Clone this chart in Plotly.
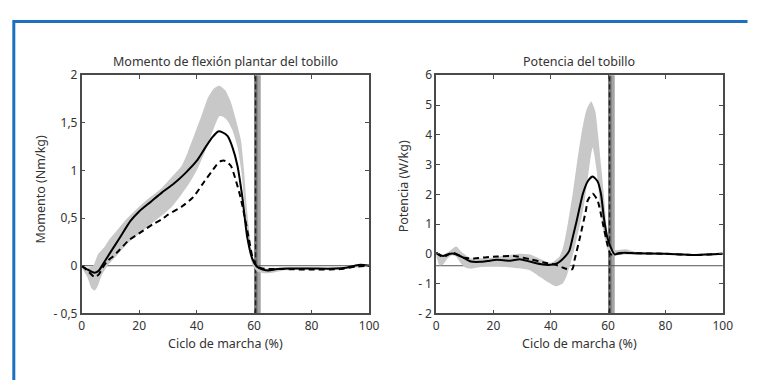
import plotly.graph_objects as go

# ---------------- data ----------------
# Left panel: Momento de flexión plantar del tobillo (Nm/kg)
mom_mean_x = [0, 2, 4.5, 6, 7.5, 10, 13, 17, 20, 24, 28, 32, 36, 40, 43, 45.5, 47.5, 49, 50.8, 52.5,
              54.2, 55.9, 57.6, 59.4, 61, 63, 65, 68, 72, 80, 88, 92, 95, 97, 100]
mom_mean_y = [0, -0.04, -0.075, -0.05, 0.02, 0.14, 0.28, 0.47, 0.57, 0.67, 0.77, 0.86, 0.97, 1.10, 1.24, 1.35, 1.41, 1.40, 1.36, 1.24,
              1.05, 0.72, 0.30, 0.07, -0.01, -0.04, -0.05, -0.035, -0.03, -0.03, -0.03, -0.02, 0.0, 0.01, 0.0]

mom_dash_x = [0, 2, 4.6, 6, 7.5, 9, 11, 13, 16.5, 20.5, 25, 28, 30, 34.8, 38.8, 42.8, 45, 47, 48.5, 50,
              51.9, 53.7, 55, 56, 57, 58.2, 59.5, 61, 63, 70, 80, 90, 95, 100]
mom_dash_y = [0, -0.05, -0.12, -0.09, -0.01, 0.05, 0.10, 0.16, 0.27, 0.35, 0.44, 0.49, 0.535, 0.62, 0.72, 0.89, 0.98, 1.06, 1.10, 1.10,
              1.05, 0.89, 0.75, 0.62, 0.47, 0.28, 0.08, -0.01, -0.03, -0.035, -0.04, -0.035, -0.01, 0.0]

mom_up_x = [0, 2, 4, 5.7, 8, 10, 12, 15, 18.8, 23, 28, 31, 34.8, 37, 39.4, 42, 43.9, 46, 47.9, 50,
            51.9, 53.5, 55.4, 56.5, 57.5, 58.5, 59.5, 60.5, 62, 65, 70, 80, 90, 95, 100]
mom_up_y = [0, -0.02, 0.0, 0.12, 0.20, 0.29, 0.36, 0.47, 0.585, 0.70, 0.82, 0.92, 1.05, 1.20, 1.39, 1.60, 1.76, 1.86, 1.89, 1.84,
            1.72, 1.55, 1.32, 1.0, 0.6, 0.3, 0.08, 0.0, -0.03, -0.03, -0.02, -0.02, -0.02, 0.0, 0.01]

mom_lo_x = [0, 2, 3.5, 4.5, 5.5, 7, 9, 12, 16.5, 23.4, 31.4, 37.1, 40, 42.8, 46.2, 47.9, 49.5, 50.8, 52.5, 54.2,
            55.5, 56.5, 57.5, 58.5, 59.5, 61, 62, 64, 67, 70, 80, 90, 95, 100]
mom_lo_y = [-0.02, -0.12, -0.24, -0.26, -0.22, -0.10, 0.0, 0.10, 0.25, 0.42, 0.62, 0.85, 1.0, 1.19, 1.46, 1.57, 1.56, 1.52, 1.42, 1.25,
            1.0, 0.7, 0.4, 0.15, 0.0, -0.06, -0.07, -0.08, -0.07, -0.05, -0.04, -0.04, -0.02, 0.0]

# Right panel: Potencia del tobillo (W/kg)
pot_mean_x = [0, 2.4, 4, 5.8, 8.7, 12.1, 15.5, 18, 21.2, 25.8, 29.2, 32.7, 37.2, 40.7, 42.5, 44.1, 46.4, 47.8, 48.9, 50,
              51.2, 52.9, 54.6, 56.3, 57.5, 58.6, 59.8, 61.5, 62.3, 64, 66, 70, 80, 90, 95, 100]
pot_mean_y = [0.03, -0.07, -0.02, 0.01, -0.09, -0.26, -0.27, -0.24, -0.20, -0.23, -0.18, -0.26, -0.36, -0.36, -0.30, -0.18, 0.09, 0.62, 1.05, 1.53,
              2.02, 2.44, 2.60, 2.44, 2.02, 1.16, 0.52, 0.09, -0.02, 0.03, 0.04, 0.02, 0.0, -0.04, -0.02, 0.0]

pot_dash_x = [0, 2.4, 5.8, 9.8, 13.2, 17, 21.2, 27, 32.7, 38.4, 41.8, 45.3, 47.5, 48.3, 50.1, 52.3, 52.9, 54.6, 56.3, 58.1,
              59.8, 60.9, 62.5, 66, 70, 80, 90, 95, 100]
pot_dash_y = [0.03, -0.10, 0.04, -0.13, -0.16, -0.12, -0.09, -0.07, -0.18, -0.31, -0.37, -0.50, -0.52, -0.20, 0.52, 1.48, 1.80, 2.02, 1.80, 1.05,
              0.30, -0.02, 0.0, 0.03, 0.02, 0.0, -0.04, -0.02, 0.0]

pot_up_x = [0, 2, 4, 7, 9, 12, 16, 20, 25, 29, 33, 37, 40, 43, 44.5, 46, 47.8, 49.5, 51, 52.5,
            54.1, 55.5, 56.5, 57.5, 58.6, 59.5, 60.5, 61.5, 63, 66, 69, 72, 80, 90, 100]
pot_up_y = [0.05, -0.05, 0.05, 0.25, 0.05, -0.15, -0.15, -0.12, -0.05, 0.0, -0.03, -0.2, -0.3, -0.1, 0.3, 1.05, 2.12, 3.3, 4.2, 4.85,
            5.12, 4.8, 4.0, 3.0, 1.9, 0.9, 0.35, 0.15, 0.12, 0.15, 0.08, 0.03, 0.02, -0.02, 0.02]

pot_lo_x = [0, 1.2, 2.5, 4, 5.5, 7, 8.5, 10, 12, 15, 20, 25, 30, 32.7, 36.1, 39.5, 41.8, 44.1, 45.5, 46.5,
            47.8, 48.9, 50, 51.5, 53, 54.6, 56, 57, 58, 59, 60, 61, 62, 65, 70, 80, 90, 100]
pot_lo_y = [-0.05, -0.39, -0.35, -0.15, -0.05, -0.10, -0.30, -0.45, -0.50, -0.45, -0.42, -0.45, -0.50, -0.55, -0.77, -0.98, -1.09, -1.0, -0.75, -0.45,
            0.0, 0.45, 0.9, 1.6, 2.6, 3.57, 2.8, 1.8, 1.0, 0.45, 0.1, -0.05, -0.06, -0.02, -0.03, -0.03, -0.06, -0.02]

x_ticks = [0, 20, 40, 60, 80, 100]
mom_ticks = [-0.5, 0, 0.5, 1, 1.5, 2]
mom_ticktext = ["- 0,5", "0", "0,5", "1", "1,5", "2"]
pot_ticks = [-2, -1, 0, 1, 2, 3, 4, 5, 6]
pot_ticktext = ["- 2", "- 1", "0", "1", "2", "3", "4", "5", "6"]

toe_off_band = [60.0, 61.3, 62.3]   # dark band start, split, light band end
toe_off_dash = 60.5
mom_ref = 0
pot_ref = -0.4

W, H = 759, 388
FONT = "Noto Sans"
TXT = "#333333"
AX = "#4a4a4a"


def px(v):
    return v / W


def py(v):
    return 1 - v / H


fig = go.Figure()


def panel(xa, ya, ux, uy, lx, ly, mx, my, dx, dy):
    fig.add_trace(go.Scatter(x=ux + lx[::-1], y=uy + ly[::-1], fill="toself", fillcolor="#c8c8c8",
                             mode="lines", line=dict(width=0, shape="spline", smoothing=0.6),
                             xaxis=xa, yaxis=ya, hoverinfo="skip", showlegend=False))
    fig.add_trace(go.Scatter(x=dx, y=dy, mode="lines",
                             line=dict(color="black", width=2, dash="6px,4px", shape="spline", smoothing=0.6),
                             xaxis=xa, yaxis=ya, showlegend=False))
    fig.add_trace(go.Scatter(x=mx, y=my, mode="lines",
                             line=dict(color="black", width=2, shape="spline", smoothing=0.6),
                             xaxis=xa, yaxis=ya, showlegend=False))


panel("x", "y", mom_up_x, mom_up_y, mom_lo_x, mom_lo_y, mom_mean_x, mom_mean_y, mom_dash_x, mom_dash_y)
panel("x2", "y2", pot_up_x, pot_up_y, pot_lo_x, pot_lo_y, pot_mean_x, pot_mean_y, pot_dash_x, pot_dash_y)

shapes = []
for xr, yr, ref in (("x", "y", mom_ref), ("x2", "y2", pot_ref)):
    shapes.append(dict(type="rect", xref=xr, yref=yr + " domain", x0=toe_off_band[1], x1=toe_off_band[2],
                       y0=0, y1=1, fillcolor="#a3a3a3", line=dict(width=0), layer="below"))
    shapes.append(dict(type="rect", xref=xr, yref=yr + " domain", x0=toe_off_band[0], x1=toe_off_band[1],
                       y0=0, y1=1, fillcolor="#777777", line=dict(width=0), layer="below"))
    shapes.append(dict(type="line", xref=xr, yref=yr + " domain", x0=toe_off_dash, x1=toe_off_dash,
                       y0=0, y1=1, line=dict(color="#222222", width=1.5, dash="5px,3px"), layer="below"))
    shapes.append(dict(type="line", xref=xr + " domain", yref=yr, x0=0, x1=1, y0=ref, y1=ref,
                       line=dict(color="#555555", width=1), layer="below"))

# blue frame of the figure (top edge and left edge only)
bx = px(11)
by = py(13)
shapes.append(dict(type="path", xref="paper", yref="paper",
                   path=f"M {bx},0 L {bx},{by} L 0.998,{by}",
                   line=dict(color="#1b70c0", width=3)))

axis_common = dict(showgrid=False, zeroline=False, showline=True, linecolor=AX, linewidth=1.5,
                   mirror="ticks", ticks="inside", ticklen=4, tickwidth=1, tickcolor=AX,
                   tickfont=dict(family=FONT, size=12, color=TXT))

y_dom = [py(318.3), py(69.3)]
fig.update_layout(
    width=W, height=H, autosize=False,
    margin=dict(l=0, r=0, t=0, b=0),
    paper_bgcolor="white", plot_bgcolor="white",
    showlegend=False,
    xaxis=dict(domain=[px(80), px(372.5)], range=[0, 100], anchor="y", tickvals=x_ticks, **axis_common),
    yaxis=dict(domain=y_dom, range=[-0.5, 2], anchor="x", tickvals=mom_ticks, ticktext=mom_ticktext, **axis_common),
    xaxis2=dict(domain=[px(440.7), px(732.3)], range=[0, 100], anchor="y2", tickvals=x_ticks, **axis_common),
    yaxis2=dict(domain=y_dom, range=[-2, 6], anchor="x2", tickvals=pot_ticks, ticktext=pot_ticktext, **axis_common),
    shapes=shapes,
)

ann_font = dict(family=FONT, size=12.5, color=TXT)
anns = [
    dict(text="Momento de flexión plantar del tobillo", x=px(226), y=py(55)),
    dict(text="Potencia del tobillo", x=px(586.5), y=py(55)),
    dict(text="Ciclo de marcha (%)", x=px(226), y=py(350)),
    dict(text="Ciclo de marcha (%)", x=px(586.5), y=py(350)),
    dict(text="Momento (Nm/kg)", x=px(38.5), y=py(188), textangle=-90),
    dict(text="Potencia (W/kg)", x=px(407.5), y=py(186), textangle=-90),
]
for a in anns:
    fig.add_annotation(xref="paper", yref="paper", showarrow=False, xanchor="center", yanchor="middle",
                       font=ann_font, **a)

page_css = ("document.documentElement.style.margin='0';document.documentElement.style.overflow='hidden';"
            "document.body.style.margin='0';document.body.style.padding='0';document.body.style.overflow='hidden';")
fig.write_html("out.html", post_script=page_css, config={"displayModeBar": False})
